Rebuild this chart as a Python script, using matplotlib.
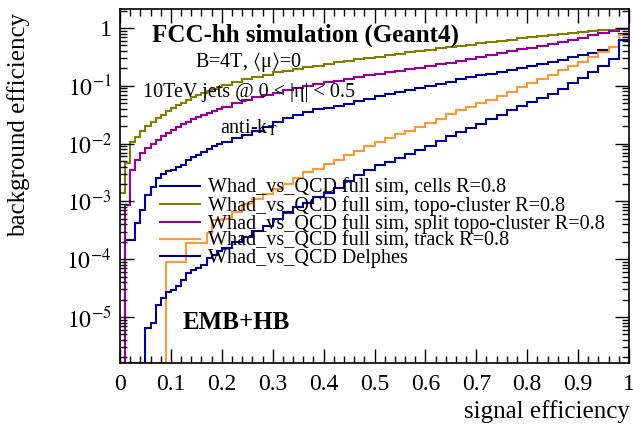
import numpy as np
import matplotlib.pyplot as plt
from matplotlib.ticker import FixedLocator, FuncFormatter, NullFormatter

plt.rcParams['font.family'] = ['Liberation Serif', 'DejaVu Serif']
plt.rcParams['mathtext.fontset'] = 'stix'

# signal-efficiency bin edges (left edges), last bin ends at 1.0
sig_edges = [0.00, 0.01, 0.02, 0.03, 0.04, 0.05, 0.06, 0.07, 0.08, 0.09,
             0.10, 0.11, 0.12, 0.13, 0.14, 0.15, 0.16, 0.17, 0.18, 0.19,
             0.20, 0.22, 0.24, 0.26, 0.28, 0.30, 0.32, 0.34, 0.36, 0.38,
             0.40, 0.42, 0.44, 0.46, 0.48, 0.50, 0.52, 0.54, 0.56, 0.58,
             0.60, 0.62, 0.64, 0.66, 0.68, 0.70, 0.72, 0.74, 0.76, 0.78,
             0.80, 0.82, 0.84, 0.86, 0.88, 0.90, 0.92, 0.94, 0.96, 0.98, 1.00]

# log10(background efficiency) per bin (None = empty bin)
cells_log = [None, -3.67, -3.67, -3.37, -3.15, -2.89, -2.75, -2.60, -2.52, -2.48,
             -2.46, -2.41, -2.37, -2.28, -2.23, -2.19, -2.14, -2.09, -2.05, -2.01,
             -1.97, -1.91, -1.85, -1.79, -1.71, -1.63, -1.56, -1.50, -1.45, -1.41,
             -1.38, -1.35, -1.31, -1.26, -1.22, -1.18, -1.14, -1.11, -1.07, -1.04,
             -1.00, -0.965, -0.93, -0.89, -0.855, -0.82, -0.79, -0.755, -0.725, -0.69,
             -0.66, -0.625, -0.59, -0.55, -0.51, -0.47, -0.43, -0.385, -0.33, -0.10]
topo_log = [-2.85, -2.34, -1.97, -1.88, -1.78, -1.70, -1.63, -1.56, -1.50, -1.44,
            -1.39, -1.34, -1.29, -1.245, -1.20, -1.16, -1.12, -1.085, -1.05, -1.02,
            -0.99, -0.94, -0.89, -0.85, -0.81, -0.77, -0.74, -0.71, -0.68, -0.65,
            -0.62, -0.595, -0.57, -0.545, -0.52, -0.495, -0.47, -0.447, -0.423, -0.40,
            -0.375, -0.353, -0.33, -0.31, -0.287, -0.265, -0.243, -0.22, -0.20, -0.18,
            -0.16, -0.142, -0.124, -0.106, -0.09, -0.075, -0.06, -0.043, -0.028, -0.01]
split_log = [None, -3.06, -2.46, -2.28, -2.17, -2.08, -2.00, -1.93, -1.87, -1.81,
             -1.76, -1.71, -1.66, -1.62, -1.58, -1.54, -1.50, -1.465, -1.43, -1.395,
             -1.36, -1.30, -1.25, -1.20, -1.16, -1.12, -1.08, -1.04, -1.01, -0.97,
             -0.94, -0.91, -0.88, -0.85, -0.82, -0.79, -0.765, -0.74, -0.715, -0.69,
             -0.66, -0.63, -0.60, -0.57, -0.535, -0.50, -0.47, -0.44, -0.40, -0.37,
             -0.34, -0.305, -0.27, -0.235, -0.20, -0.165, -0.13, -0.095, -0.06, -0.02]
track_log = [None, None, None, None, None, None, None, None, None, -4.04,
             -4.04, -4.04, -4.04, -3.72, -3.72, -3.72, -3.72, -3.55, -3.32, -3.32,
             -3.30, -3.18, -3.05, -2.96, -2.88, -2.79, -2.70, -2.60, -2.50, -2.44,
             -2.36, -2.28, -2.20, -2.12, -2.04, -1.97, -1.91, -1.84, -1.78, -1.72,
             -1.65, -1.57, -1.49, -1.42, -1.36, -1.30, -1.24, -1.17, -1.10, -1.02,
             -0.95, -0.88, -0.81, -0.73, -0.66, -0.58, -0.50, -0.42, -0.33, -0.12]
delphes_log = [None, None, None, None, None, -5.19, -5.10, -4.80, -4.67, -4.56,
               -4.53, -4.47, -4.36, -4.24, -4.19, -4.15, -4.10, -3.98, -3.92, -3.86,
               -3.80, -3.70, -3.61, -3.52, -3.43, -3.30, -3.18, -3.10, -3.02, -2.93,
               -2.85, -2.76, -2.65, -2.55, -2.45, -2.37, -2.31, -2.25, -2.18, -2.11,
               -2.04, -1.96, -1.87, -1.80, -1.73, -1.66, -1.58, -1.50, -1.42, -1.35,
               -1.28, -1.21, -1.14, -1.05, -0.96, -0.86, -0.76, -0.66, -0.54, -0.20]

labels = ['Whad_vs_QCD full sim, cells R=0.8',
          'Whad_vs_QCD full sim, topo-cluster R=0.8',
          'Whad_vs_QCD full sim, split topo-cluster R=0.8',
          'Whad_vs_QCD full sim, track R=0.8',
          'Whad_vs_QCD Delphes']
colors = ['#000099', '#808000', '#990099', '#ff9933', '#000099']

ymin, ymax = 1.6e-6, 2.13


def to_eff(vals):
    # empty bins are drawn on the lower frame edge, like ROOT does
    return np.array([ymin if v is None else 10 ** v for v in vals])


fig = plt.figure(figsize=(6.33, 4.28), dpi=100)
ax = fig.add_axes([120 / 633, 1 - 363 / 428, 509 / 633, 354 / 428])

for vals, lab, col in zip([cells_log, topo_log, split_log, track_log, delphes_log], labels, colors):
    ax.stairs(to_eff(vals), sig_edges, baseline=None, color=col, lw=1.5, label=lab)

ax.set_yscale('log')
ax.set_xlim(0, 1)
ax.set_ylim(ymin, ymax)

ax.xaxis.set_major_locator(FixedLocator(np.arange(0, 1.01, 0.1)))
ax.xaxis.set_minor_locator(FixedLocator(np.arange(0, 1.001, 0.02)))
ax.xaxis.set_major_formatter(FuncFormatter(lambda v, p: '0' if v == 0 else ('1' if abs(v - 1) < 1e-9 else '%.1f' % v)))
ax.yaxis.set_major_locator(FixedLocator([1e-5, 1e-4, 1e-3, 1e-2, 1e-1, 1]))
ax.yaxis.set_minor_locator(FixedLocator([m * 10.0 ** e for e in range(-6, 1) for m in range(2, 10)]))
ax.yaxis.set_minor_formatter(NullFormatter())
ax.yaxis.set_major_formatter(FuncFormatter(lambda v, p: '1' if v >= 0.99 else r'$10^{%d}$' % round(np.log10(v))))

ax.tick_params(which='both', direction='in', top=True, right=True, labelsize=17, width=1)
ax.tick_params(which='major', length=10)
ax.tick_params(which='minor', length=5)
ax.tick_params(axis='x', which='major', pad=8)
ax.tick_params(axis='y', which='major', pad=6)
for s in ax.spines.values():
    s.set_linewidth(1.2)

ax.set_xlabel('signal efficiency', fontsize=18, loc='right')
ax.set_ylabel('background efficiency', fontsize=18, loc='top')
ax.xaxis.set_label_coords(1.002, -0.105)
ax.yaxis.set_label_coords(-0.177, 0.99)

ax.text(0.063, 0.927, 'FCC-hh simulation (Geant4)', transform=ax.transAxes,
        fontsize=18, fontweight='bold', va='center')
ax.text(0.147, 0.850, r'B=4T, $\langle$μ$\rangle$=0', transform=ax.transAxes, fontsize=14.5, va='center')
ax.text(0.045, 0.763, '10TeV jets @ 0 < |η| < 0.5', transform=ax.transAxes, fontsize=14.5, va='center')
ax.text(0.196, 0.664, r'anti-k$_{\rm T}$', transform=ax.transAxes, fontsize=14.5, va='center')
ax.text(0.124, 0.113, 'EMB+HB', transform=ax.transAxes, fontsize=18, fontweight='bold', va='center')

ax.legend(loc='upper left', bbox_to_anchor=(0.0786, 0.52), frameon=False, fontsize=14.5,
          borderpad=0, borderaxespad=0, handlelength=2.0, handletextpad=0.4, labelspacing=-0.1)

fig.savefig('out.png', dpi=100)
